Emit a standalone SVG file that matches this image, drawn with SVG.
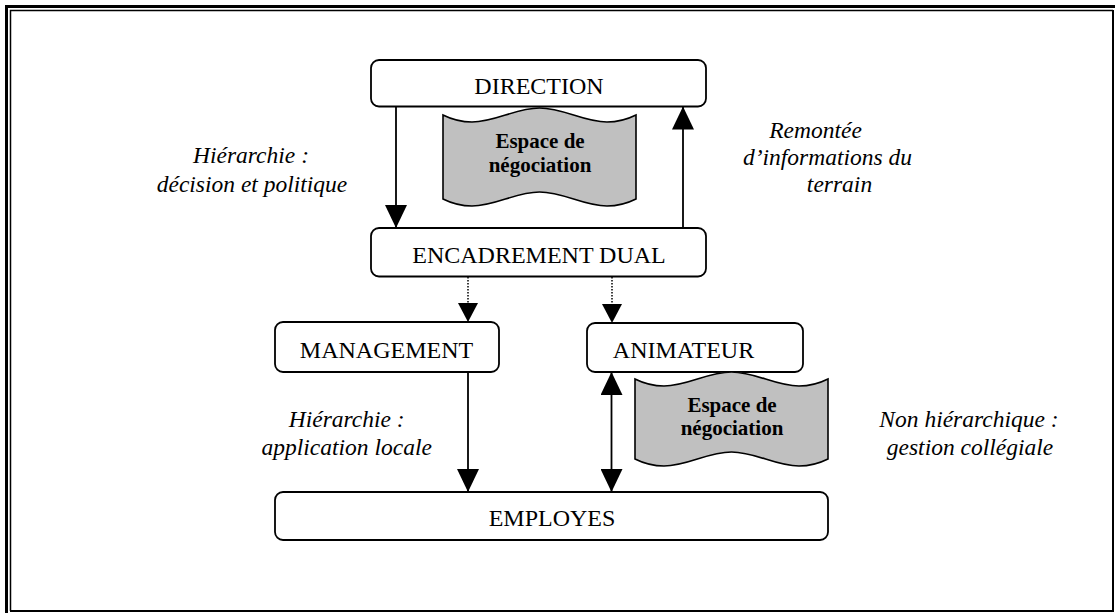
<svg xmlns="http://www.w3.org/2000/svg" width="1115" height="613" viewBox="0 0 1115 613">
<style>
.box{fill:#fff;stroke:#000;stroke-width:1.8}
.lbl{font-family:"Liberation Serif","Times New Roman",serif;font-size:24px;fill:#000;text-anchor:middle}
.it{font-family:"Liberation Serif","Times New Roman",serif;font-size:23.5px;font-style:italic;fill:#000;text-anchor:middle}
.neg{fill:#c0c0c0;stroke:#000;stroke-width:1.6}
.bt{font-family:"Liberation Serif","Times New Roman",serif;font-size:21px;font-weight:bold;fill:#000;text-anchor:middle}
.ln{stroke:#000;stroke-width:1.8;fill:none}
.dot{stroke:#000;stroke-width:1.5;fill:none;stroke-dasharray:1.5 1.5}
</style>
<defs>
<marker id="ah" markerWidth="23" markerHeight="22" refX="23" refY="11" orient="auto" markerUnits="userSpaceOnUse"><path d="M0,0 L23,11 L0,22 Z" fill="#000"/></marker>
<marker id="ahs" markerWidth="23" markerHeight="22" refX="0" refY="11" orient="auto" markerUnits="userSpaceOnUse"><path d="M23,0 L0,11 L23,22 Z" fill="#000"/></marker>
<marker id="ahd" markerWidth="19" markerHeight="20" refX="19" refY="10" orient="auto" markerUnits="userSpaceOnUse"><path d="M0,0 L19,10 L0,20 Z" fill="#000"/></marker>
</defs>
<rect width="1115" height="613" fill="#fff"/>
<g id="frame" fill="none" stroke="#000">
<path d="M1115,6.5 H6.5 V613" stroke-width="3"/>
<path d="M1113,10.5 H10.5 V611" stroke-width="1.5"/>
<path d="M1113,10 V611 H10" stroke-width="2"/>
</g>
<g id="direction">
<rect class="box" x="371" y="60" width="335" height="46.5" rx="8"/>
<text class="lbl" x="539" y="94">DIRECTION</text>
</g>
<g id="negociation-haut">
<path class="neg" d="M443,115 C453,120 462,122 472,122 C496,122 515,108 539.5,108 C564,108 583,122 607,122 C617,122 626,120 636,115 L636,199 C626,204 617,206 607,206 C583,206 564,192 539.5,192 C515,192 496,206 472,206 C462,206 453,204 443,199 Z"/>
<text class="bt" x="540" y="148">Espace de</text>
<text class="bt" x="540" y="172">négociation</text>
</g>
<g id="encadrement">
<rect class="box" x="371" y="228" width="335" height="48.5" rx="8"/>
<text class="lbl" x="539" y="263">ENCADREMENT DUAL</text>
</g>
<g id="management">
<rect class="box" x="275" y="322" width="224" height="50" rx="8"/>
<text class="lbl" x="386.5" y="358">MANAGEMENT</text>
</g>
<g id="animateur">
<rect class="box" x="587" y="323" width="216" height="49" rx="8"/>
<text class="lbl" x="683.5" y="357.5">ANIMATEUR</text>
</g>
<g id="negociation-bas">
<path class="neg" d="M635,379 C645,384 654,386 664,386 C688,386 707,372 731.5,372 C756,372 775,386 799,386 C809,386 818,384 828,379 L828,459 C818,464 809,466 799,466 C775,466 756,452 731.5,452 C707,452 688,466 664,466 C654,466 645,464 635,459 Z"/>
<text class="bt" x="732" y="411.5">Espace de</text>
<text class="bt" x="732" y="435">négociation</text>
</g>
<g id="employes">
<rect class="box" x="275" y="492" width="553" height="48" rx="8"/>
<text class="lbl" x="552" y="526">EMPLOYES</text>
</g>
<g id="connectors">
<line class="ln" x1="396" y1="106.5" x2="396" y2="228" marker-end="url(#ah)"/>
<line class="ln" x1="683" y1="228" x2="683" y2="106.5" marker-end="url(#ah)"/>
<line class="dot" x1="468" y1="277" x2="468" y2="322" marker-end="url(#ahd)"/>
<line class="dot" x1="612" y1="277" x2="612" y2="323" marker-end="url(#ahd)"/>
<line class="ln" x1="468" y1="372" x2="468" y2="492" marker-end="url(#ah)"/>
<line class="ln" x1="611.5" y1="372" x2="611.5" y2="492" marker-start="url(#ahs)" marker-end="url(#ah)"/>
</g>
<g id="labels">
<text class="it" x="251" y="163">Hiérarchie :</text>
<text class="it" x="252" y="191.5">décision et politique</text>
<text class="it" x="815.5" y="137.5">Remontée</text>
<text class="it" x="827.5" y="165">d’informations du</text>
<text class="it" x="839.5" y="192">terrain</text>
<text class="it" x="346.7" y="426.7">Hiérarchie :</text>
<text class="it" x="346.7" y="455">application locale</text>
<text class="it" x="969" y="427">Non hiérarchique :</text>
<text class="it" x="970" y="455">gestion collégiale</text>
</g>
</svg>
